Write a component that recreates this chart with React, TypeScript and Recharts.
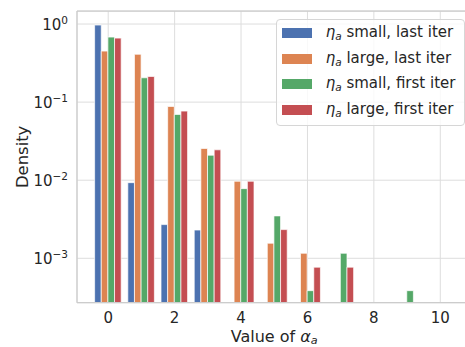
import React from 'react';
import { BarChart, Bar, XAxis, YAxis, CartesianGrid, Legend, ReferenceLine } from 'recharts';

// Histogram bins (value of alpha_a) and densities per series
const alphaValues = [0, 1, 2, 3, 4, 5, 6, 7, 8, 9];
const smallLast = [0.97, 0.0093, 0.0027, 0.0023, null, null, null, null, null, null];
const largeLast = [0.45, 0.41, 0.088, 0.0255, 0.0097, 0.00156, 0.00116, null, null, null];
const smallFirst = [0.68, 0.205, 0.0695, 0.0209, 0.0078, 0.00349, 0.000385, 0.00116, null, 0.000385];
const largeFirst = [0.66, 0.213, 0.0767, 0.0245, 0.0097, 0.00233, 0.00077, 0.00077, null, null];

const xTicks = [0, 2, 4, 6, 8, 10];
const yTicks = [1, 0.1, 0.01, 0.001];

const seriesKeys = ['smallLast', 'largeLast', 'smallFirst', 'largeFirst'];
const seriesLabels = ['small, last iter', 'large, last iter', 'small, first iter', 'large, first iter'];
const seriesColors = ['#4C72B0', '#DD8452', '#55A868', '#C44E52'];

const X_DOMAIN: [number, number] = [-0.94, 10.94];
const Y_DOMAIN: [number, number] = [2.7e-4, 1.468];

const data = alphaValues.map((x, i) => ({
  x,
  smallLast: smallLast[i],
  largeLast: largeLast[i],
  smallFirst: smallFirst[i],
  largeFirst: largeFirst[i],
}));

const FONT = '"DejaVu Sans", sans-serif';
const TEXT = '#262626';
const SPINE = '#cccccc';
const GRID = '#dddddd';

const CHART_W = 472;
const CHART_H = 347;
const MARGIN = { top: 11, right: 0.5, bottom: 0, left: 0 };
const Y_AXIS_W = 77;
const X_AXIS_H = 44.3;
const PLOT_W = CHART_W - MARGIN.left - MARGIN.right - Y_AXIS_W;
// each bar is a fifth of one bin
const BAR_PX = (PLOT_W / (X_DOMAIN[1] - X_DOMAIN[0])) * 0.2;

const YTick = (props: any) => {
  const { x, y, payload } = props;
  const exp = Math.round(Math.log10(payload.value));
  const expText = exp < 0 ? `\u2212${-exp}` : `${exp}`;
  return (
    <text x={x} y={y} dy={6} textAnchor="end" fill={TEXT} fontSize={15} fontFamily={FONT}>
      10
      <tspan dy={-6.5} fontSize={10.5}>{expText}</tspan>
    </text>
  );
};

const XTick = (props: any) => {
  const { x, y, payload } = props;
  return (
    <text x={x} y={y} dy={20.3} textAnchor="middle" fill={TEXT} fontSize={15} fontFamily={FONT}>
      {payload.value}
    </text>
  );
};

const XLabel = (props: any) => {
  const vb = props.viewBox || { x: Y_AXIS_W, y: CHART_H - X_AXIS_H, width: PLOT_W, height: X_AXIS_H };
  const cx = vb.x + vb.width / 2;
  return (
    <text x={cx} y={vb.y + 38.8} textAnchor="middle" fill={TEXT} fontSize={16} fontFamily={FONT}>
      Value of{' '}
      <tspan fontStyle="italic">α</tspan>
      <tspan fontStyle="italic" fontSize={11.2} dy={2.6}>a</tspan>
    </text>
  );
};

const YLabel = (props: any) => {
  const vb = props.viewBox || { x: 0, y: MARGIN.top, width: Y_AXIS_W, height: 291.7 };
  const cy = vb.y + vb.height / 2;
  const bx = 28.5;
  return (
    <text
      x={bx}
      y={cy}
      transform={`rotate(-90, ${bx}, ${cy})`}
      textAnchor="middle"
      fill={TEXT}
      fontSize={16.4}
      fontFamily={FONT}
    >
      Density
    </text>
  );
};

const LegendBox = () => {
  const rowCenters = [13.7, 39.4, 65.0, 90.7];
  return (
    <div
      style={{
        position: 'relative',
        boxSizing: 'border-box',
        width: 189,
        height: 107,
        border: '1px solid #d6d6d6',
        borderRadius: 4,
        background: 'rgba(255,255,255,0.8)',
        fontFamily: FONT,
        fontSize: 15,
        color: TEXT,
      }}
    >
      {seriesLabels.map((label, i) => (
        <React.Fragment key={label}>
          <div
            style={{
              position: 'absolute',
              left: 5,
              top: rowCenters[i] - 6,
              width: 30,
              height: 10,
              background: seriesColors[i],
            }}
          />
          <div
            style={{
              position: 'absolute',
              left: 49,
              top: rowCenters[i] - 11,
              height: 18,
              lineHeight: '18px',
              whiteSpace: 'nowrap',
            }}
          >
            <span style={{ fontStyle: 'italic' }}>η</span>
            <span style={{ fontStyle: 'italic', fontSize: 10.5, position: 'relative', top: 3 }}>a</span>
            {' ' + label}
          </div>
        </React.Fragment>
      ))}
    </div>
  );
};

export default function App() {
  return (
    <div
      style={{
        position: 'absolute',
        left: 0,
        top: 0,
        width: 465,
        height: 347,
        overflow: 'hidden',
        background: '#ffffff',
        fontFamily: FONT,
      }}
    >
      <BarChart width={CHART_W} height={CHART_H} data={data} margin={MARGIN} barGap={0}>
        <CartesianGrid stroke={GRID} strokeWidth={1} horizontal vertical />
        <XAxis
          dataKey="x"
          type="number"
          domain={X_DOMAIN}
          allowDataOverflow
          ticks={xTicks}
          interval={0}
          height={X_AXIS_H}
          tickLine={false}
          tickSize={0}
          tickMargin={0}
          axisLine={{ stroke: SPINE, strokeWidth: 1.25 }}
          tick={<XTick />}
          label={{ content: <XLabel /> }}
        />
        <YAxis
          type="number"
          scale="log"
          domain={Y_DOMAIN}
          allowDataOverflow
          ticks={yTicks}
          interval={0}
          width={Y_AXIS_W}
          tickLine={false}
          tickSize={0}
          tickMargin={9}
          axisLine={{ stroke: SPINE, strokeWidth: 1.25 }}
          tick={<YTick />}
          label={{ content: <YLabel /> }}
        />
        <ReferenceLine y={Y_DOMAIN[1]} stroke={SPINE} strokeWidth={1.25} ifOverflow="visible" />
        {seriesKeys.map((key, i) => (
          <Bar
            key={key}
            dataKey={key}
            fill={seriesColors[i]}
            stroke="#ffffff"
            strokeWidth={0.7}
            barSize={BAR_PX}
            isAnimationActive={false}
          />
        ))}
        <Legend
          layout="vertical"
          align="center"
          verticalAlign="middle"
          wrapperStyle={{ left: 275.7, top: 19.3, width: 189, height: 107 }}
          content={<LegendBox />}
        />
      </BarChart>
    </div>
  );
}
